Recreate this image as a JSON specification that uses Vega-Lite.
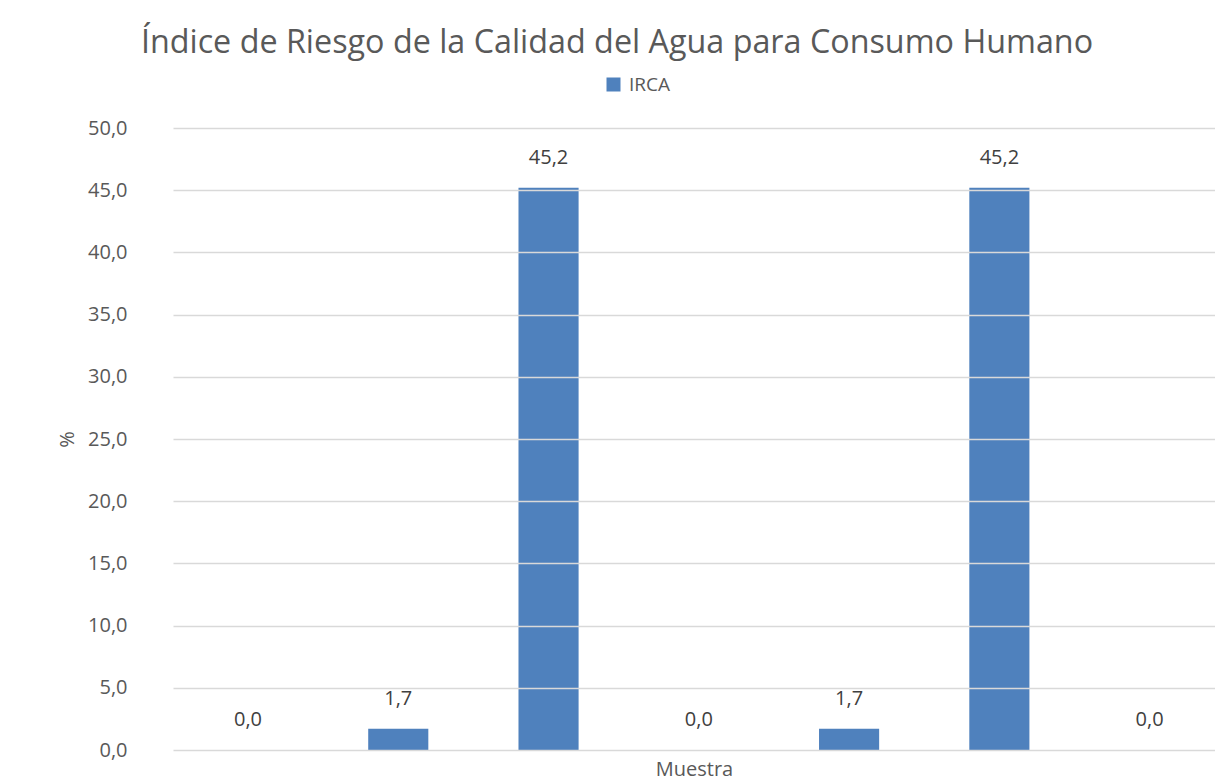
{
  "$schema": "https://vega.github.io/schema/vega-lite/v6.json",
  "width": 1042,
  "height": 622,
  "autosize": "none",
  "padding": {"left": 173, "top": 128, "right": 0, "bottom": 32},
  "background": "white",
  "config": {
    "view": {"stroke": null},
    "font": "Open Sans",
    "locale": {
      "number": {"decimal": ",", "thousands": ".", "grouping": [3], "currency": ["", " €"]}
    }
  },
  "title": {
    "text": "Índice de Riesgo de la Calidad del Agua para Consumo Humano",
    "font": "Open Sans",
    "fontSize": 32.3,
    "fontWeight": "normal",
    "color": "#595959",
    "anchor": "middle",
    "dx": -77,
    "offset": 16
  },
  "data": {
    "values": [
      {"muestra": "1", "serie": "IRCA", "irca": 0.0},
      {"muestra": "2", "serie": "IRCA", "irca": 1.7},
      {"muestra": "3", "serie": "IRCA", "irca": 45.2},
      {"muestra": "4", "serie": "IRCA", "irca": 0.0},
      {"muestra": "5", "serie": "IRCA", "irca": 1.7},
      {"muestra": "6", "serie": "IRCA", "irca": 45.2},
      {"muestra": "7", "serie": "IRCA", "irca": 0.0}
    ]
  },
  "encoding": {
    "x": {
      "field": "muestra",
      "type": "ordinal",
      "sort": null,
      "scale": {"paddingInner": 0.6, "paddingOuter": 0.267, "align": 0.56},
      "axis": {
        "title": "Muestra",
        "titleFont": "Open Sans",
        "titleFontSize": 20,
        "titleFontWeight": "normal",
        "titleColor": "#595959",
        "titlePadding": 9,
        "labels": false,
        "ticks": false,
        "domain": false,
        "grid": false
      }
    },
    "y": {
      "field": "irca",
      "type": "quantitative",
      "scale": {"domain": [0, 50], "nice": false},
      "axis": {
        "title": "%",
        "titleFont": "Open Sans",
        "titleFontSize": 20,
        "titleFontWeight": "normal",
        "titleColor": "#595959",
        "titlePadding": 10,
        "values": [0, 5, 10, 15, 20, 25, 30, 35, 40, 45, 50],
        "format": ".1f",
        "labelFont": "Open Sans",
        "labelFontSize": 20,
        "labelColor": "#595959",
        "labelPadding": 46,
        "ticks": false,
        "domain": false,
        "grid": true,
        "gridColor": "#d9d9d9",
        "gridWidth": 1.5,
        "zindex": 1
      }
    }
  },
  "layer": [
    {
      "mark": {"type": "bar"},
      "encoding": {
        "color": {
          "field": "serie",
          "type": "nominal",
          "scale": {"range": ["#4f81bd"]},
          "legend": {
            "title": null,
            "orient": "none",
            "legendX": 431,
            "legendY": -53,
            "symbolType": "square",
            "symbolSize": 196,
            "symbolStrokeWidth": 0,
            "labelFont": "Open Sans",
            "labelFontSize": 19,
            "labelColor": "#595959",
            "labelOffset": 6
          }
        }
      }
    },
    {
      "mark": {
        "type": "text",
        "baseline": "middle",
        "dy": -30,
        "font": "Open Sans",
        "fontSize": 20,
        "color": "#404040"
      },
      "encoding": {
        "text": {"field": "irca", "type": "quantitative", "format": ".1f"}
      }
    }
  ]
}
